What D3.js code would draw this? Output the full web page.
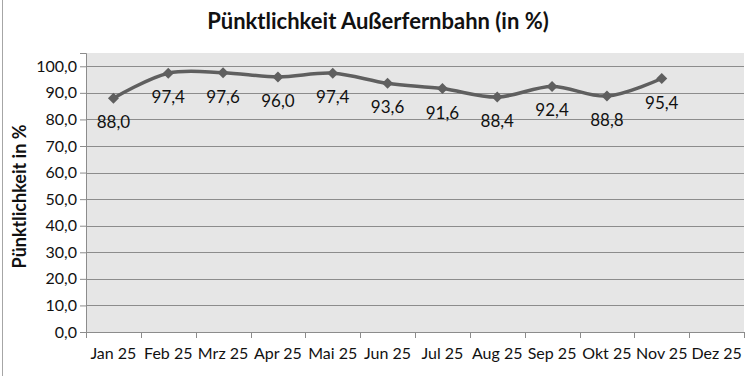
<!DOCTYPE html>
<html>
<head>
<meta charset="utf-8">
<script src="https://cdn.jsdelivr.net/npm/d3@7"></script>
<style>
  body { margin: 0; background: #fff; }
  svg { display: block; font-family: Lato, "Open Sans", sans-serif; }
</style>
</head>
<body>
<svg id="chart" width="752" height="376"></svg>
<script>
// Months on the category axis, values only where published
const months = ["Jan 25", "Feb 25", "Mrz 25", "Apr 25", "Mai 25", "Jun 25",
                "Jul 25", "Aug 25", "Sep 25", "Okt 25", "Nov 25", "Dez 25"];
const punctuality = [88.0, 97.4, 97.6, 96.0, 97.4, 93.6, 91.6, 88.4, 92.4, 88.8, 95.4];
const yTicks = [0, 10, 20, 30, 40, 50, 60, 70, 80, 90, 100];

const svg = d3.select("#chart");
const margin = { top: 53, right: 8, bottom: 44, left: 86 };
const width = 752, height = 376;
const innerW = width - margin.left - margin.right;
const innerH = height - margin.top - margin.bottom;

const fmt = (v) => v.toFixed(1).replace(".", ",");

// only the left edge of the chart frame is visible in the screenshot
svg.append("line")
  .attr("x1", 2.5).attr("x2", 2.5)
  .attr("y1", 0).attr("y2", height)
  .attr("stroke", "#a6a6a6");

svg.append("text")
  .attr("x", 378).attr("y", 29)
  .attr("text-anchor", "middle")
  .attr("font-weight", "bold").attr("font-size", 22)
  .attr("fill", "#111")
  .text("Pünktlichkeit Außerfernbahn (in %)");

svg.append("text")
  .attr("transform", `translate(26, ${margin.top + innerH / 2 + 4}) rotate(-90)`)
  .attr("text-anchor", "middle")
  .attr("font-weight", "bold").attr("font-size", 18)
  .attr("fill", "#111")
  .text("Pünktlichkeit in %");

const g = svg.append("g").attr("transform", `translate(${margin.left},${margin.top})`);

const x = d3.scaleBand().domain(months).range([0, innerW]);
const y = d3.scaleLinear().domain([0, 105]).range([innerH, 0]);

g.append("rect")
  .attr("width", innerW).attr("height", innerH)
  .attr("fill", "#e6e6e6");

// gridlines
g.append("g").selectAll("line")
  .data(yTicks.filter((t) => t > 0))
  .join("line")
  .attr("x1", 0).attr("x2", innerW)
  .attr("y1", (d) => Math.round(y(d)) + 0.5).attr("y2", (d) => Math.round(y(d)) + 0.5)
  .attr("stroke", "#8c8c8c");

// y axis
const yAxis = g.append("g")
  .call(d3.axisLeft(y).tickValues(yTicks).tickFormat(fmt).tickSize(6).tickPadding(3));
yAxis.select(".domain").attr("stroke", "#8c8c8c");
yAxis.selectAll(".tick line").attr("stroke", "#8c8c8c");
yAxis.selectAll("text").attr("font-size", 16).attr("fill", "#111").attr("font-family", "Lato, sans-serif");

// x axis: ticks at category boundaries
const xAxis = g.append("g").attr("transform", `translate(0,${innerH})`);
xAxis.append("line")
  .attr("x1", 0).attr("x2", innerW)
  .attr("y1", 0.5).attr("y2", 0.5)
  .attr("stroke", "#8c8c8c");
xAxis.selectAll("line.tk")
  .data(d3.range(months.length + 1))
  .join("line")
  .attr("class", "tk")
  .attr("x1", (i) => Math.round(i * x.step()) + 0.5)
  .attr("x2", (i) => Math.round(i * x.step()) + 0.5)
  .attr("y1", 0).attr("y2", 6)
  .attr("stroke", "#8c8c8c");
xAxis.selectAll("text")
  .data(months)
  .join("text")
  .attr("x", (d) => x(d) + x.bandwidth() / 2)
  .attr("y", 27)
  .attr("text-anchor", "middle")
  .attr("font-size", 16).attr("fill", "#111")
  .text((d) => d);

// series
const pts = punctuality.map((v, i) => ({ m: months[i], v }));
const line = d3.line()
  .x((d) => x(d.m) + x.bandwidth() / 2)
  .y((d) => y(d.v))
  .curve(d3.curveCatmullRom.alpha(0.5));

g.append("path")
  .datum(pts)
  .attr("d", line)
  .attr("fill", "none")
  .attr("stroke", "#5f5f5f")
  .attr("stroke-width", 3.5)
  .attr("stroke-linejoin", "round");

// square diamonds, like the spreadsheet marker
const r = 5.5;
g.selectAll("path.marker")
  .data(pts)
  .join("path")
  .attr("class", "marker")
  .attr("transform", (d) => `translate(${x(d.m) + x.bandwidth() / 2},${y(d.v)})`)
  .attr("d", `M0,${-r}L${r},0L0,${r}L${-r},0Z`)
  .attr("fill", "#5f5f5f");

g.selectAll("text.lbl")
  .data(pts)
  .join("text")
  .attr("class", "lbl")
  .attr("x", (d) => x(d.m) + x.bandwidth() / 2)
  .attr("y", (d) => y(d.v) + 30)
  .attr("text-anchor", "middle")
  .attr("font-size", 17).attr("fill", "#111")
  .text((d) => fmt(d.v));
</script>
</body>
</html>
